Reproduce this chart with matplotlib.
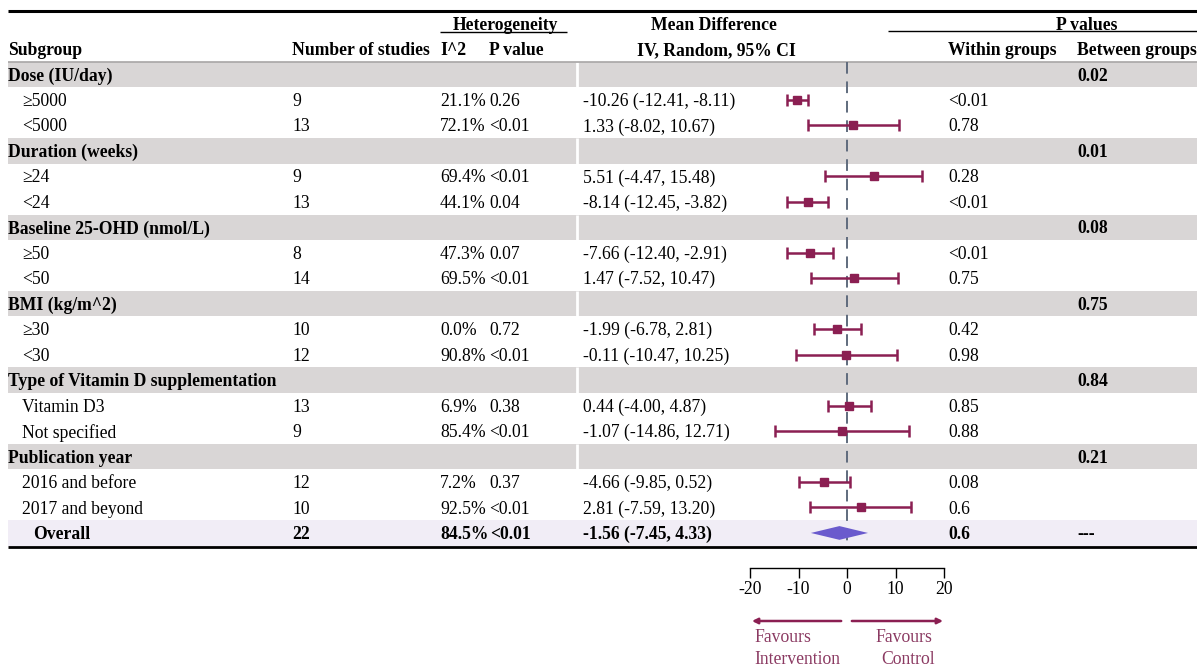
import matplotlib
matplotlib.use("Agg")
import matplotlib.pyplot as plt
import numpy as np

plt.rcParams["font.family"] = ["Liberation Serif", "DejaVu Serif"]
plt.rcParams["font.size"] = 12.7

# Subgroup headings and the between-group P value of each
group_names = ["Dose (IU/day)", "Duration (weeks)", "Baseline 25-OHD (nmol/L)",
               "BMI (kg/m^2)", "Type of Vitamin D supplementation", "Publication year"]
p_between = ["0.02", "0.01", "0.08", "0.75", "0.84", "0.21"]

# Two subgroups per heading
sub_labels = ["\u22655000", "<5000", "\u226524", "<24", "\u226550", "<50",
              "\u226530", "<30", "Vitamin D3", "Not specified",
              "2016 and before", "2017 and beyond"]
n_studies = [9, 13, 9, 13, 8, 14, 10, 12, 13, 9, 12, 10]
i2 = [21.1, 72.1, 69.4, 44.1, 47.3, 69.5, 0.0, 90.8, 6.9, 85.4, 7.2, 92.5]
p_het = ["0.26", "<0.01", "<0.01", "0.04", "0.07", "<0.01",
         "0.72", "<0.01", "0.38", "<0.01", "0.37", "<0.01"]
md = [-10.26, 1.33, 5.51, -8.14, -7.66, 1.47, -1.99, -0.11, 0.44, -1.07, -4.66, 2.81]
ci_lo = [-12.41, -8.02, -4.47, -12.45, -12.40, -7.52, -6.78, -10.47, -4.00, -14.86, -9.85, -7.59]
ci_hi = [-8.11, 10.67, 15.48, -3.82, -2.91, 10.47, 2.81, 10.25, 4.87, 12.71, 0.52, 13.20]
p_within = ["<0.01", "0.78", "0.28", "<0.01", "<0.01", "0.75",
            "0.42", "0.98", "0.85", "0.88", "0.08", "0.6"]

# Pooled estimate
overall_n = 22
overall_i2 = 84.5
overall_p_het = "<0.01"
overall_md, overall_lo, overall_hi = -1.56, -7.45, 4.33
overall_p_within = "0.6"
overall_p_between = "---"

xticks = [-20, -10, 0, 10, 20]

W, H = 1197, 668
ROW0, ROWH = 74.5, 25.47          # pixel centre of first row, row pitch
TY = 0.06                         # text sits a touch below the row centre


def row_of(ypx):
    return (ypx - ROW0) / ROWH


BAND = "#d9d6d6"
OVERALL_BG = "#f1edf6"
MARK = "#8b1f52"
DIAMOND = "#6a5acd"
FAV = "#8b3a62"
DASH = "#5f6b7d"

fig = plt.figure(figsize=(W / 100, H / 100), dpi=100)
ax = fig.add_axes([0, 0, 1, 1])
ax.set_xlim(0, W)
ax.set_ylim(row_of(H), row_of(0))
ax.axis("off")

x_sub, x_n, x_i2, x_phet, x_md, x_pw, x_pb = 8, 292, 440, 489, 583, 948, 1077


def cell(x, r, s, **kw):
    ax.text(x, r + TY, s, va="center", **kw)


# header
ax.hlines(row_of(11), 8, W, color="black", lw=2.2)
cell(505, -2, "Heterogeneity", ha="center", fontweight="bold")
ax.hlines(row_of(32), 440, 567, color="black", lw=1)
cell(714, -2, "Mean Difference", ha="center", fontweight="bold")
cell(1087, -2, "P values", ha="center", fontweight="bold")
ax.hlines(row_of(31), 888, W, color="black", lw=1)
for x, s in [(x_sub, "Subgroup"), (x_n, "Number of studies"), (x_i2, "I^2"),
             (x_phet, "P value"), (x_pw, "Within groups"), (x_pb, "Between groups")]:
    cell(x, -1, s, fontweight="bold")
cell(716, -1, "IV, Random, 95% CI", ha="center", fontweight="bold")

# body rows
rows_sub = []
for g, name in enumerate(group_names):
    r = 3 * g
    ax.axhspan(r - 0.5, r + 0.5, xmin=8 / W, xmax=1, color=BAND, lw=0, zorder=0)
    ax.vlines(577, r - 0.5, r + 0.5, color="white", lw=2, zorder=1)
    cell(x_sub, r, name, fontweight="bold")
    cell(x_pb, r, p_between[g], fontweight="bold")
    rows_sub += [r + 1, r + 2]
ax.hlines(-0.5, 8, W, color="#a8a6a6", lw=1.2, zorder=1)

for k, r in enumerate(rows_sub):
    cell(22, r, sub_labels[k])
    cell(x_n, r, str(n_studies[k]))
    cell(x_i2, r, f"{i2[k]:.1f}%")
    cell(x_phet, r, p_het[k])
    cell(x_md, r, f"{md[k]:.2f} ({ci_lo[k]:.2f}, {ci_hi[k]:.2f})")
    cell(x_pw, r, p_within[k])

# overall row
r_all = 18
ax.axhspan(r_all - 0.5, r_all + 0.5, xmin=8 / W, xmax=1, color=OVERALL_BG, lw=0, zorder=0)
for x, s in [(33, "Overall"), (x_n, str(overall_n)), (x_i2, f"{overall_i2:.1f}%"),
             (x_phet + 1, overall_p_het),
             (x_md, f"{overall_md:.2f} ({overall_lo:.2f}, {overall_hi:.2f})"),
             (x_pw, overall_p_within), (x_pb, overall_p_between)]:
    cell(x, r_all, s, fontweight="bold")
ax.hlines(row_of(547), 8, W, color="black", lw=2)

# forest panel on mean-difference scale
fx0, fx1 = 750, 944
fa = fig.add_axes([fx0 / W, 0, (fx1 - fx0) / W, 1])
fa.set_xlim(xticks[0], xticks[-1])
fa.set_ylim(row_of(H), row_of(0))
fa.patch.set_alpha(0)
for side in ("top", "left", "right"):
    fa.spines[side].set_visible(False)
fa.spines["bottom"].set_position(("data", row_of(568)))
fa.spines["bottom"].set_linewidth(1)
fa.set_yticks([])
fa.set_xticks(xticks)
fa.set_xticklabels([str(t) for t in xticks])
fa.tick_params(axis="x", direction="out", length=7, width=1, pad=2, labelsize=12.7)

fa.plot([0, 0], [-0.5, row_of(547)], color=DASH, lw=1.4, dashes=(6, 4))

md_a = np.array(md)
err = [md_a - np.array(ci_lo), np.array(ci_hi) - md_a]
fa.errorbar(md_a, rows_sub, xerr=err, fmt="s", color=MARK, ms=5.5,
            elinewidth=1.8, capsize=4, capthick=1.8, zorder=3)

dh = 0.27
fa.fill([overall_lo, overall_md, overall_hi, overall_md],
        [r_all, r_all - dh, r_all, r_all + dh], color=DIAMOND, lw=0, zorder=3)

# direction arrows
ya = row_of(621)
fa.annotate("", xy=(-19.6, ya), xytext=(-1.2, ya), annotation_clip=False,
            arrowprops=dict(arrowstyle="-|>", color=MARK, lw=1.8,
                            mutation_scale=8, shrinkA=0, shrinkB=0))
fa.annotate("", xy=(19.8, ya), xytext=(1.0, ya), annotation_clip=False,
            arrowprops=dict(arrowstyle="-|>", color=MARK, lw=1.8,
                            mutation_scale=8, shrinkA=0, shrinkB=0))
fa.text(-19.0, row_of(637), "Favours", color=FAV, va="center")
fa.text(-19.0, row_of(660), "Intervention", color=FAV, va="center")
fa.text(11.8, row_of(637), "Favours", color=FAV, va="center", ha="center")
fa.text(12.6, row_of(660), "Control", color=FAV, va="center", ha="center")

fig.savefig("out.png", dpi=100)
